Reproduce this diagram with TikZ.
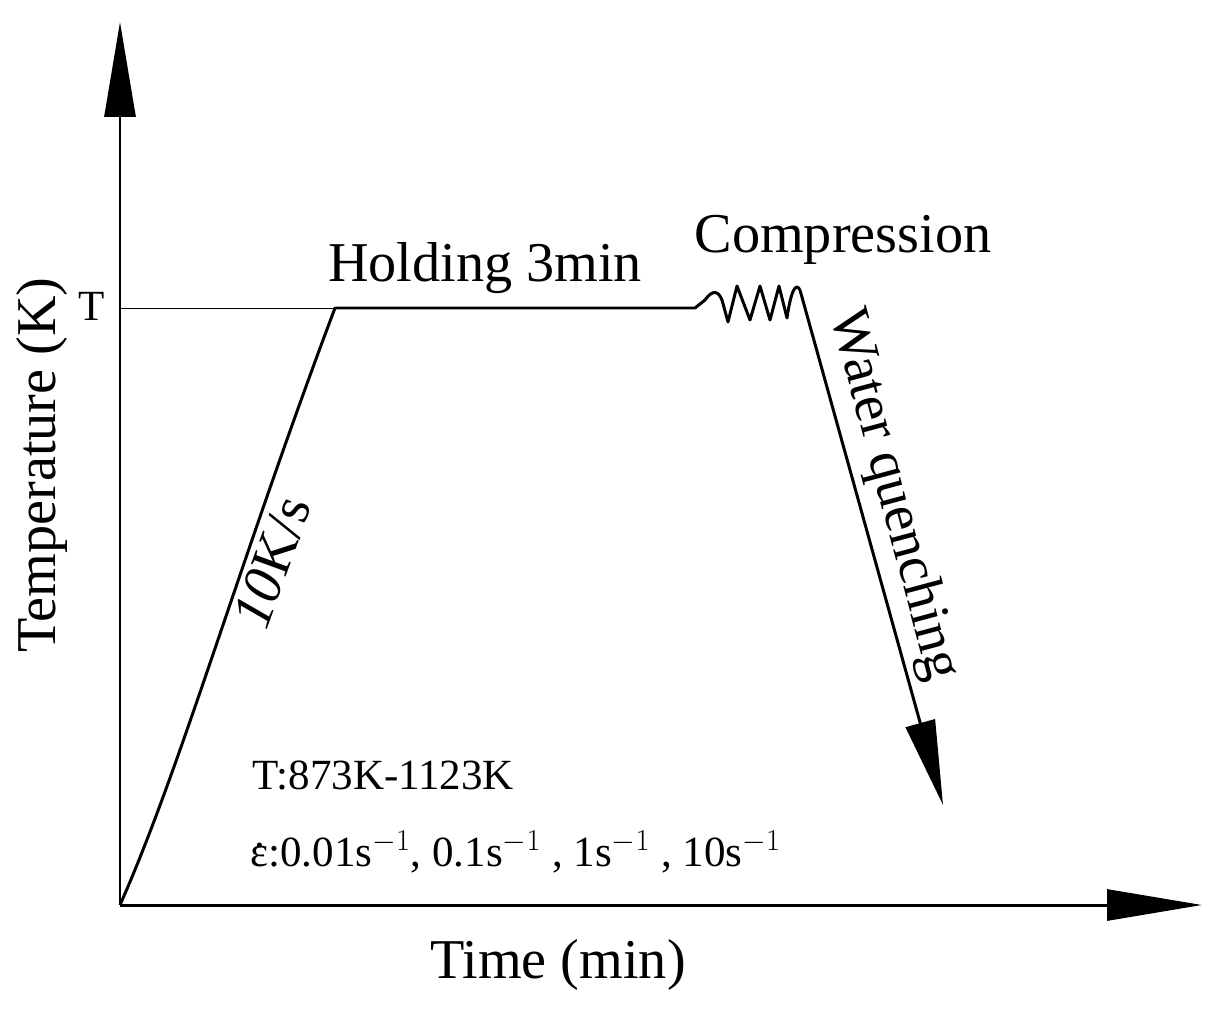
\documentclass[tikz,border=0pt]{standalone}
\usepackage{fontspec}
\setmainfont{Liberation Serif}
\usetikzlibrary{arrows.meta}
\newcommand{\epsdot}{\ooalign{ε\cr\hidewidth\raisebox{0.45em}{.}\hidewidth\cr}}
\begin{document}
\begin{tikzpicture}[x=0.02cm,y=-0.02cm,
 big/.style={font=\fontsize{32}{34}\selectfont,inner sep=0},
 small/.style={font=\fontsize{24.5}{26}\selectfont,inner sep=0,anchor=west},
 tip/.style={-{Triangle[length=1.9cm,width=0.62cm]}}]
\useasboundingbox (0,0) rectangle (1221,1011);
\coordinate (o) at (120,905);
\coordinate (ytop) at (120,22);
\coordinate (xend) at (1202,905);
\draw[line width=1.7pt,tip] (o) -- (ytop);
\draw[line width=1.7pt,tip] (o) -- (xend);
\node[small,anchor=center] (tl) at (92,306) {T};
\coordinate (a) at (335,308);
\coordinate (b) at (695,308);
\coordinate (c) at (800,290);
\coordinate (d) at (943,805);
\draw[line width=0.5pt] (120,308) -- (a);
\draw[line width=1.7pt,line join=round] (o) .. controls (180,770) and (240,560) .. (a) -- (b)
  -- (705,300) .. controls (712,290) and (718,290) .. (722,300)
  -- (728,322) -- (737,286) -- (750,320) -- (760,286) -- (770,320) -- (779,286)
  -- (787,318) .. controls (791,290) and (796,282) .. (c);
\draw[line width=1.7pt,-{Triangle[length=1.7cm,width=0.6cm]}] (c) -- (d);
\node[big] (hold) at (485,268) {Holding 3min};
\node[big] (comp) at (843,240) {Compression};
\node[big,rotate=-75] (wq) at (893,495) {Water quenching};
\node[big,rotate=70] (rate) at (272,562) {\textit{10}K/s};
\node[big,rotate=90] (ylab) at (42,465) {Temperature (K)};
\node[big] (xlab) at (558,965) {Time (min)};
\node[small] (t1) at (252,775) {T:873K-1123K};
\node[small] (t2) at (250,852) {\epsdot:0.01s$^{-1}$, 0.1s$^{-1}$ , 1s$^{-1}$ , 10s$^{-1}$};
\end{tikzpicture}
\end{document}
